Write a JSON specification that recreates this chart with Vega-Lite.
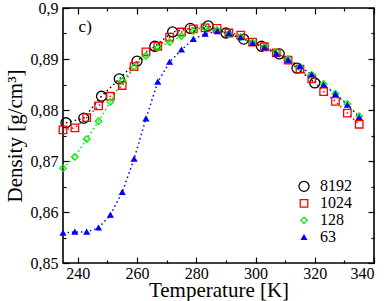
{
  "$schema": "https://vega.github.io/schema/vega-lite/v6.json",
  "width": 311,
  "height": 255,
  "autosize": {"type": "none"},
  "padding": {"left": 63, "top": 8, "right": 14, "bottom": 38},
  "background": "white",
  "config": {
    "font": "Liberation Serif, Times New Roman, serif",
    "view": {"stroke": "black", "strokeWidth": 1.6},
    "axis": {
      "domain": false, "grid": false, "tickColor": "black", "tickWidth": 1.2,
      "labelColor": "black", "titleColor": "black",
      "labelFont": "Liberation Serif, Times New Roman, serif", "titleFont": "Liberation Serif, Times New Roman, serif",
      "labelFontSize": 16, "titleFontSize": 21, "titleFontWeight": "normal"
    },
    "legend": {
      "orient": "none", "legendX": 233, "legendY": 171, "padding": 0,
      "labelFont": "Liberation Serif, Times New Roman, serif", "labelFontSize": 16, "labelColor": "black",
      "clipHeight": 13, "rowPadding": 1.7, "labelOffset": 8, "symbolStrokeWidth": 1.3
    }
  },
  "data": {"values": [
    {"s":"8192","T":236,"D":0.8775},{"s":"8192","T":242,"D":0.8784},{"s":"8192","T":248,"D":0.8827},
    {"s":"8192","T":254,"D":0.8861},{"s":"8192","T":260,"D":0.8896},{"s":"8192","T":266,"D":0.8925},
    {"s":"8192","T":272,"D":0.8953},{"s":"8192","T":278,"D":0.8960},{"s":"8192","T":284,"D":0.8965},
    {"s":"8192","T":290,"D":0.8951},{"s":"8192","T":296,"D":0.8939},{"s":"8192","T":302,"D":0.8925},
    {"s":"8192","T":308,"D":0.8910},{"s":"8192","T":314,"D":0.8882},{"s":"8192","T":320,"D":0.8853},
    {"s":"1024","T":235,"D":0.8761},{"s":"1024","T":239,"D":0.8765},{"s":"1024","T":243,"D":0.8785},
    {"s":"1024","T":247,"D":0.8808},{"s":"1024","T":251,"D":0.8827},{"s":"1024","T":255,"D":0.8848},
    {"s":"1024","T":259,"D":0.8885},{"s":"1024","T":263,"D":0.8914},{"s":"1024","T":267,"D":0.8925},
    {"s":"1024","T":271,"D":0.8943},{"s":"1024","T":275,"D":0.8953},{"s":"1024","T":279,"D":0.8959},
    {"s":"1024","T":283,"D":0.8961},{"s":"1024","T":287,"D":0.8960},{"s":"1024","T":291,"D":0.8951},
    {"s":"1024","T":295,"D":0.8947},{"s":"1024","T":299,"D":0.8933},{"s":"1024","T":303,"D":0.8924},
    {"s":"1024","T":307,"D":0.8912},{"s":"1024","T":311,"D":0.8898},{"s":"1024","T":315,"D":0.8880},
    {"s":"1024","T":319,"D":0.8861},{"s":"1024","T":323,"D":0.8836},{"s":"1024","T":327,"D":0.8817},
    {"s":"1024","T":331,"D":0.8794},{"s":"1024","T":335,"D":0.8772},
    {"s":"128","T":235,"D":0.8686},{"s":"128","T":239,"D":0.8708},{"s":"128","T":243,"D":0.8743},
    {"s":"128","T":247,"D":0.8778},{"s":"128","T":251,"D":0.8816},{"s":"128","T":255,"D":0.8857},
    {"s":"128","T":259,"D":0.8884},{"s":"128","T":263,"D":0.8906},{"s":"128","T":267,"D":0.8922},
    {"s":"128","T":271,"D":0.8933},{"s":"128","T":275,"D":0.8945},{"s":"128","T":279,"D":0.8955},
    {"s":"128","T":283,"D":0.8961},{"s":"128","T":287,"D":0.8957},{"s":"128","T":291,"D":0.8949},
    {"s":"128","T":295,"D":0.8943},{"s":"128","T":299,"D":0.8933},{"s":"128","T":303,"D":0.8924},
    {"s":"128","T":307,"D":0.8914},{"s":"128","T":311,"D":0.8900},{"s":"128","T":315,"D":0.8884},
    {"s":"128","T":319,"D":0.8869},{"s":"128","T":323,"D":0.8851},{"s":"128","T":327,"D":0.8832},
    {"s":"128","T":331,"D":0.8812},{"s":"128","T":335,"D":0.8788},
    {"s":"63","T":235,"D":0.8559},{"s":"63","T":239,"D":0.8561},{"s":"63","T":243,"D":0.8561},
    {"s":"63","T":247,"D":0.8569},{"s":"63","T":251,"D":0.8594},{"s":"63","T":255,"D":0.8639},
    {"s":"63","T":259,"D":0.8704},{"s":"63","T":263,"D":0.8783},{"s":"63","T":267,"D":0.8855},
    {"s":"63","T":271,"D":0.8894},{"s":"63","T":275,"D":0.8918},{"s":"63","T":279,"D":0.8939},
    {"s":"63","T":283,"D":0.8949},{"s":"63","T":287,"D":0.8954},{"s":"63","T":291,"D":0.8950},
    {"s":"63","T":295,"D":0.8942},{"s":"63","T":299,"D":0.8931},{"s":"63","T":303,"D":0.8922},
    {"s":"63","T":307,"D":0.8910},{"s":"63","T":311,"D":0.8898},{"s":"63","T":315,"D":0.8886},
    {"s":"63","T":319,"D":0.8869},{"s":"63","T":323,"D":0.8849},{"s":"63","T":327,"D":0.8831},
    {"s":"63","T":331,"D":0.8810},{"s":"63","T":335,"D":0.8786}
  ]},
  "layer": [
    {
      "mark": {"type": "line", "strokeDash": [1.5, 3], "strokeWidth": 1.5},
      "encoding": {
        "x": {"field": "T", "type": "quantitative", "scale": {"domain": [235, 340], "nice": false, "zero": false},
              "axis": {"orient": "bottom", "values": [240, 260, 280, 300, 320, 340], "tickSize": -6, "labelPadding": 8,
                       "title": "Temperature [K]", "titleX": 155.5, "titleY": 33, "titleBaseline": "alphabetic"}},
        "y": {"field": "D", "type": "quantitative", "scale": {"domain": [0.85, 0.9], "nice": false, "zero": false},
              "axis": {"orient": "left", "values": [0.85, 0.86, 0.87, 0.88, 0.89, 0.9], "tickSize": -6, "labelPadding": 11,
                       "labelExpr": "replace(format(datum.value, '.2~f'), '.', ',')",
                       "title": "Density [g/cm³]", "titleX": -42, "titleY": 127.5, "titleBaseline": "alphabetic"}},
        "detail": {"field": "s", "type": "nominal"},
        "stroke": {"field": "s", "type": "nominal", "title": null,
                   "scale": {"domain": ["8192", "1024", "128", "63"], "range": ["#000000", "#ff0000", "#00ee00", "#0000ff"]},
                   "legend": {"orient": "none", "legendX": 233, "legendY": 171, "rowPadding": 0, "clipHeight": 14.7, "labelFontSize": 16, "labelOffset": 8}}
      }
    },
    {
      "mark": {"type": "point", "strokeWidth": 1.3, "opacity": 1},
      "encoding": {
        "x": {"field": "T", "type": "quantitative", "scale": {"domain": [235, 340], "nice": false, "zero": false},
              "axis": {"orient": "bottom", "values": [250, 270, 290, 310, 330], "tickSize": -3, "labels": false, "title": null}},
        "y": {"field": "D", "type": "quantitative", "scale": {"domain": [0.85, 0.9], "nice": false, "zero": false},
              "axis": {"orient": "left", "values": [0.855, 0.865, 0.875, 0.885, 0.895], "tickSize": -3, "labels": false, "title": null}},
        "stroke": {"field": "s", "type": "nominal", "title": null,
                   "scale": {"domain": ["8192", "1024", "128", "63"], "range": ["#000000", "#ff0000", "#00ee00", "#0000ff"]}},
        "shape": {"field": "s", "type": "nominal", "title": null,
                  "scale": {"domain": ["8192", "1024", "128", "63"], "range": ["circle", "square", "diamond", "triangle-up"]},
                  "legend": {"orient": "none", "legendX": 233, "legendY": 171, "rowPadding": 0, "clipHeight": 14.7, "labelFontSize": 16, "labelOffset": 8}},
        "fill": {"field": "s", "type": "nominal", "title": null,
                 "scale": {"domain": ["8192", "1024", "128", "63"], "range": ["transparent", "transparent", "transparent", "#0000ff"]}},
        "size": {"field": "s", "type": "nominal", "title": null,
                 "scale": {"type": "ordinal", "domain": ["8192", "1024", "128", "63"], "range": [100, 56, 42, 24]}}
      }
    },
    {
      "mark": {"type": "line", "opacity": 0},
      "encoding": {
        "x": {"field": "T", "type": "quantitative", "scale": {"domain": [235, 340], "nice": false, "zero": false},
              "axis": {"orient": "top", "values": [240, 260, 280, 300, 320, 340], "tickSize": -6, "labels": false, "title": null}},
        "y": {"field": "D", "type": "quantitative", "scale": {"domain": [0.85, 0.9], "nice": false, "zero": false},
              "axis": {"orient": "right", "values": [0.85, 0.86, 0.87, 0.88, 0.89, 0.9], "tickSize": -6, "labels": false, "title": null}},
        "detail": {"field": "s", "type": "nominal"}
      }
    },
    {
      "mark": {"type": "line", "opacity": 0},
      "encoding": {
        "x": {"field": "T", "type": "quantitative", "scale": {"domain": [235, 340], "nice": false, "zero": false},
              "axis": {"orient": "top", "values": [250, 270, 290, 310, 330], "tickSize": -3, "labels": false, "title": null}},
        "y": {"field": "D", "type": "quantitative", "scale": {"domain": [0.85, 0.9], "nice": false, "zero": false},
              "axis": {"orient": "right", "values": [0.855, 0.865, 0.875, 0.885, 0.895], "tickSize": -3, "labels": false, "title": null}},
        "detail": {"field": "s", "type": "nominal"}
      }
    },
    {
      "data": {"values": [{"label": "c)"}]},
      "mark": {"type": "text", "fontSize": 17, "font": "Liberation Serif, Times New Roman, serif", "align": "center", "baseline": "middle", "color": "black"},
      "encoding": {
        "x": {"datum": 242.5, "type": "quantitative", "axis": null},
        "y": {"datum": 0.8963, "type": "quantitative", "axis": null},
        "text": {"field": "label"}
      }
    }
  ],
  "resolve": {"axis": {"x": "independent", "y": "independent"}}
}
